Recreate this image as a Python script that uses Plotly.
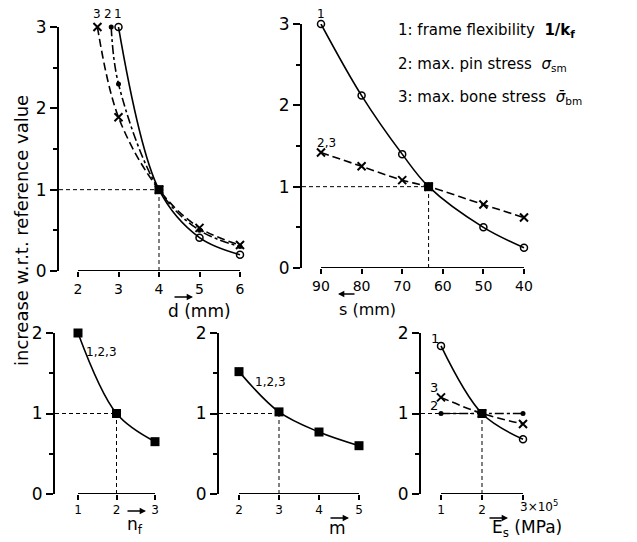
import plotly.graph_objects as go

W, H = 637, 542
OFF = 8  # page body margin of the html page

# ---------------- data ----------------
# top-left: d (mm)
d_ticks = [2, 3, 4, 5, 6]
d_c1 = [3, 4, 5, 6]
v_c1 = [3.0, 1.0, 0.41, 0.20]
d_c2 = [2.82, 3, 4, 5, 6]
v_c2 = [3.0, 2.3, 1.0, 0.5, 0.3]
d_c3 = [2.48, 3, 4, 5, 6]
v_c3 = [3.0, 1.89, 1.0, 0.53, 0.32]
d_ref = 4

# top-right: s (mm)
s_ticks = [90, 80, 70, 60, 50, 40]
s_vals = [90, 80, 70, 63.5, 50, 40]
s_c1 = [3.0, 2.12, 1.4, 1.0, 0.5, 0.25]
s_c23 = [1.42, 1.25, 1.08, 1.0, 0.78, 0.62]
s_ref = 63.5

# bottom-left: n_f
nf_ticks = [1, 2, 3]
nf_vals = [1, 2, 3]
nf_c = [2.0, 1.0, 0.65]
nf_ref = 2

# bottom-middle: m
m_ticks = [2, 3, 4, 5]
m_vals = [2, 3, 4, 5]
m_c = [1.52, 1.02, 0.77, 0.6]
m_ref = 3

# bottom-right: E_s (x10^5 MPa)
e_ticks = [1, 2, 3]
e_ticktext = ["1", "2", ""]   # last label drawn as "3×10^5"
e_vals = [1, 2, 3]
e_c1 = [1.84, 1.0, 0.68]
e_c2 = [1.0, 1.0, 1.0]
e_c3 = [1.2, 1.0, 0.87]
e_ref = 2

FONT = "DejaVu Sans"


def px(x):
    return (x - OFF) / W


def py(y):
    return 1 - (y - OFF) / H


def xgeom(ax_px, first_px, last_px, v0, v1, pad=4):
    scale = (last_px - first_px) / (v1 - v0)
    rmin = v0 - (first_px - ax_px) / scale
    rmax = v1 + pad / scale
    return [px(ax_px), px(last_px + pad)], [rmin, rmax]


panels = {
    # name: (x-geometry, y bottom px, y top px, ymax, ticks, ticktext, xtickfont)
    "1": (xgeom(59, 78, 240, 2, 6), 271, 27, 3, d_ticks, None, 14),
    "2": (xgeom(302, 321, 524, 90, 40), 268, 24, 3, s_ticks, None, 14),
    "3": (xgeom(55, 78, 155, 1, 3), 494, 333, 2, nf_ticks, None, 12),
    "4": (xgeom(219, 239, 359, 2, 5), 494, 333, 2, m_ticks, None, 12),
    "5": (xgeom(421, 441, 523, 1, 3), 494, 333, 2, e_ticks, e_ticktext, 12),
}

fig = go.Figure()
layout = {}
shapes = []
for k, ((xdom, xrng), yb, yt, ymax, ticks, ttext, xtf) in panels.items():
    xn = "xaxis" if k == "1" else f"xaxis{k}"
    yn = "yaxis" if k == "1" else f"yaxis{k}"
    xr = "x" if k == "1" else f"x{k}"
    yr = "y" if k == "1" else f"y{k}"
    xa = dict(domain=xdom, range=xrng, anchor=yr, showline=False,
              automargin=False,
              showgrid=False, zeroline=False, tickvals=ticks,
              ticks="outside", ticklen=5, tickwidth=1.5,
              tickcolor="black",
              tickfont=dict(family=FONT, size=xtf, color="black"))
    if ttext is not None:
        xa["ticktext"] = ttext
    layout[xn] = xa
    yt_vals = list(range(0, ymax + 1))
    layout[yn] = dict(domain=[py(yb), py(yt)], range=[0, ymax], anchor=xr,
                      automargin=False,
                      showline=True, linewidth=2, linecolor="black",
                      showgrid=False, zeroline=False, tickvals=yt_vals,
                      ticks="outside", ticklen=7, tickwidth=1.5,
                      tickcolor="black",
                      minor=dict(tickvals=[v + 0.5 for v in yt_vals[:-1]],
                                 ticks="outside", ticklen=4, tickwidth=1.5,
                                 tickcolor="black"),
                      tickfont=dict(family=FONT, size=17, color="black"))
    # x axis baseline between first and last tick
    shapes.append(dict(type="line", xref=xr, yref=yr, x0=ticks[0], x1=ticks[-1],
                       y0=0, y1=0, line=dict(color="black", width=2)))


def ref_lines(xr, yr, xmin, xref_v):
    dash = dict(color="black", width=1, dash="4px,3px")
    shapes.append(dict(type="line", xref=xr, yref=yr, x0=xmin, x1=xref_v,
                       y0=1, y1=1, line=dash))
    shapes.append(dict(type="line", xref=xr, yref=yr, x0=xref_v, x1=xref_v,
                       y0=0, y1=1, line=dash))


ref_lines("x", "y", panels["1"][0][1][0], d_ref)
ref_lines("x2", "y2", panels["2"][0][1][0], s_ref)
ref_lines("x3", "y3", panels["3"][0][1][0], nf_ref)
ref_lines("x4", "y4", panels["4"][0][1][0], m_ref)
ref_lines("x5", "y5", panels["5"][0][1][0], e_ref)

LW = 1.6
solid = dict(color="black", width=LW, shape="spline", smoothing=1.0)
dashdot = dict(color="black", width=LW, shape="spline", dash="dashdot", smoothing=1.0)
dashed = dict(color="black", width=LW, shape="spline", dash="8px,4px", smoothing=1.0)
circ = dict(symbol="circle-open", size=7, color="black", line=dict(width=1.5, color="black"))
dot = dict(symbol="circle", size=5, color="black")
xm = dict(symbol="x-thin-open", size=8, color="black", line=dict(width=2, color="black"))
sq = dict(symbol="square", size=9, color="black")


def tr(x, y, xa, ya, line, marker):
    fig.add_trace(go.Scatter(x=x, y=y, xaxis=xa, yaxis=ya, mode="lines+markers",
                             line=line, marker=marker, cliponaxis=False,
                             showlegend=False, hoverinfo="skip"))


def refpt(x, y, xa, ya):
    fig.add_trace(go.Scatter(x=[x], y=[y], xaxis=xa, yaxis=ya, mode="markers",
                             marker=sq, cliponaxis=False, showlegend=False,
                             hoverinfo="skip"))


# top-left
tr(d_c3, v_c3, "x", "y", dashed, xm)
tr(d_c2, v_c2, "x", "y", dashdot, dot)
tr(d_c1, v_c1, "x", "y", solid, circ)
refpt(d_ref, 1, "x", "y")
# top-right
tr(s_vals, s_c23, "x2", "y2", dashed, xm)
tr(s_vals, s_c1, "x2", "y2", solid, circ)
refpt(s_ref, 1, "x2", "y2")
# bottom-left
tr(nf_vals, nf_c, "x3", "y3", solid, sq)
# bottom-middle
tr(m_vals, m_c, "x4", "y4", solid, sq)
# bottom-right
tr(e_vals, e_c2, "x5", "y5", dashdot, dot)
tr(e_vals, e_c3, "x5", "y5", dashed, xm)
tr(e_vals, e_c1, "x5", "y5", solid, circ)
refpt(e_ref, 1, "x5", "y5")

ann = []


def txt(text, x, y, size=13, **kw):
    a = dict(text=text, x=px(x), y=py(y), xref="paper", yref="paper",
             xanchor="center", yanchor="middle",
             showarrow=False, font=dict(family=FONT, size=size, color="black"))
    a.update(kw)
    ann.append(a)


def arrow(x_head, y, dx):
    ann.append(dict(x=px(x_head), y=py(y), xref="paper", yref="paper",
                    ax=-dx, ay=0, text="", showarrow=True, arrowhead=2,
                    arrowsize=0.9, arrowwidth=1.4, arrowcolor="black"))


# curve labels
txt("3", 97, 14, 12)
txt("2", 108, 14, 12)
txt("1", 118, 14, 12)
txt("1", 321, 14, 12)
txt("2,3", 327, 143, 12)
txt("1,2,3", 101, 352, 12)
txt("1,2,3", 270, 382, 12)
txt("1", 435, 338, 13)
txt("3", 434, 387, 13)
txt("2", 434, 405, 13)

# legend
txt("1: frame flexibility  <b>1/k<sub>f</sub></b>", 396, 31, 15, xanchor="left")
txt("2: max. pin stress  <i>σ</i><sub>sm</sub>", 396, 64, 15, xanchor="left")
txt("3: max. bone stress  <i>σ̄</i><sub>bm</sub>", 396, 97, 15, xanchor="left")

# axis titles
txt("d (mm)", 199, 311, 17)
arrow(193, 297, 20)
txt("s (mm)", 367, 309, 16)
arrow(338, 294, -18)
txt("n<sub>f</sub>", 135, 525, 17)
arrow(146, 511, 20)
txt("m", 337, 528, 17)
arrow(349, 518, 20)
txt("E<sub>s</sub> (MPa)", 527, 528, 17)
arrow(508, 518, 20)
txt("3×10<sup>5</sup>", 518, 506, 12, xanchor="left")

# y title
txt("increase w.r.t. reference value", 21, 231, 18, textangle=-90)

fig.update_layout(width=W, height=H, margin=dict(l=0, r=0, t=0, b=0),
                  paper_bgcolor="white", plot_bgcolor="white",
                  shapes=shapes, annotations=ann, **layout)

fig.write_html("out.html")
